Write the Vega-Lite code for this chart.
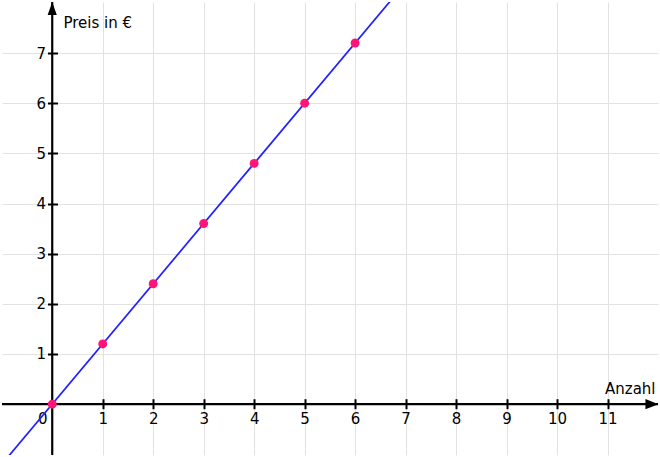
{
  "$schema": "https://vega.github.io/schema/vega-lite/v6.json",
  "description": "Preis in Euro in Abhängigkeit von der Anzahl (1,20 € pro Stück).",
  "width": 660,
  "height": 457,
  "autosize": {"type": "fit", "contains": "padding"},
  "padding": 0,
  "background": "white",
  "config": {
    "view": {"stroke": null},
    "axis": {"labelFont": "DejaVu Sans", "titleFont": "DejaVu Sans", "labelFontSize": 15, "titleFontSize": 15, "labelColor": "black", "titleColor": "black", "titleFontWeight": "normal"}
  },
  "layer": [
    {
      "data": {"values": [{"x": 0}]},
      "mark": {"type": "rule", "color": "black", "strokeWidth": 2.2},
      "encoding": {
        "x": {
          "field": "x",
          "type": "quantitative",
          "scale": {"domain": [-0.995, 12.0], "nice": false, "zero": false},
          "axis": {
            "orient": "bottom",
            "offset": -56.3,
            "values": [0, 1, 2, 3, 4, 5, 6, 7, 8, 9, 10, 11],
            "domain": false,
            "tickSize": 10,
            "tickWidth": 2,
            "tickColor": "black",
            "labelPadding": 3,
            "labelOffset": {"condition": {"test": "datum.value == 0", "value": -10}, "value": 0},
            "tickOpacity": {"condition": {"test": "datum.value == 0", "value": 0}, "value": 1},
            "grid": true,
            "gridColor": "#e2e2e2",
            "gridWidth": 1,
            "title": "Anzahl",
            "titleAnchor": "end",
            "titleAlign": "right",
            "titleBaseline": "alphabetic",
            "titleX": 653,
            "titleY": -5.7
          }
        }
      }
    },
    {
      "data": {"values": [{"y": 0}]},
      "mark": {"type": "rule", "color": "black", "strokeWidth": 2.2},
      "encoding": {
        "y": {
          "field": "y",
          "type": "quantitative",
          "scale": {"domain": [-1.014, 8.018], "nice": false, "zero": false},
          "axis": {
            "orient": "left",
            "offset": -55.5,
            "values": [1, 2, 3, 4, 5, 6, 7],
            "domain": false,
            "tickSize": 10,
            "tickWidth": 2,
            "tickColor": "black",
            "labelPadding": 2,
            "grid": true,
            "gridColor": "#e2e2e2",
            "gridWidth": 1,
            "title": "Preis in €",
            "titleAngle": 0,
            "titleAlign": "left",
            "titleBaseline": "alphabetic",
            "titleX": 5.5,
            "titleY": 25
          }
        }
      }
    },
    {
      "data": {"values": [{"x": -1, "y": -1.2}, {"x": 7, "y": 8.4}]},
      "mark": {"type": "line", "color": "#1f1fff", "strokeWidth": 1.7, "clip": true},
      "encoding": {
        "x": {"field": "x", "type": "quantitative"},
        "y": {"field": "y", "type": "quantitative"}
      }
    },
    {
      "data": {"values": [
        {"x": 0, "y": 0}, {"x": 1, "y": 1.2}, {"x": 2, "y": 2.4}, {"x": 3, "y": 3.6},
        {"x": 4, "y": 4.8}, {"x": 5, "y": 6}, {"x": 6, "y": 7.2}
      ]},
      "mark": {"type": "point", "shape": "circle", "filled": true, "color": "#ff1477", "opacity": 1, "size": 80},
      "encoding": {
        "x": {"field": "x", "type": "quantitative"},
        "y": {"field": "y", "type": "quantitative"}
      }
    },
    {
      "data": {"values": [
        {"x": 0, "y": 7.89, "arrow": "up"},
        {"x": 11.88, "y": 0, "arrow": "right"}
      ]},
      "mark": {"type": "point", "filled": true, "color": "black", "opacity": 1, "size": 169},
      "encoding": {
        "x": {"field": "x", "type": "quantitative"},
        "y": {"field": "y", "type": "quantitative"},
        "shape": {
          "field": "arrow",
          "type": "nominal",
          "scale": {"domain": ["up", "right"], "range": ["M -0.7 1 L 0 -1 L 0.7 1 Z", "M -1 -0.8 L 1 0 L -1 0.8 Z"]},
          "legend": null
        }
      }
    }
  ]
}
